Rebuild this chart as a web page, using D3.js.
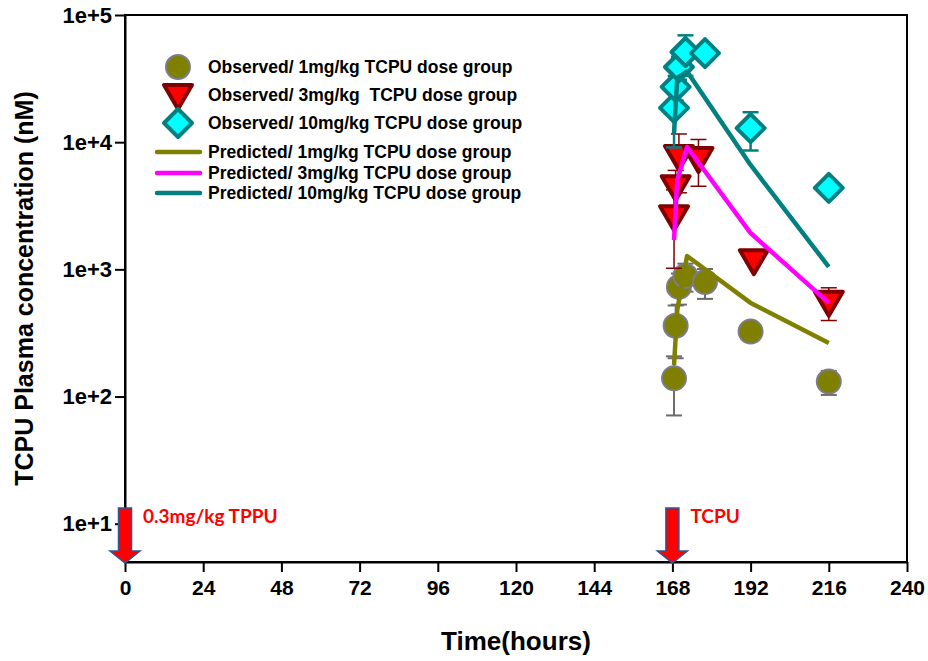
<!DOCTYPE html>
<html>
<head>
<meta charset="utf-8">
<script src="https://cdn.jsdelivr.net/npm/d3@7"></script>
<style>
  body { margin: 0; background: #fff; }
  svg text { font-family: "Liberation Sans", Arial, sans-serif; }
</style>
</head>
<body>
<div class="chart"></div>
<script>
// observed data (time in hours, concentration in nM, error = SD)
const obs1Time = [168.5, 169, 170, 172, 178, 192, 216]
const obs1 = [139, 360, 728, 888, 796, 324, 131]
const obs1Err = [68, 160, 200, 220, 210, 15, 28]

const obs3Time = [168.5, 169, 170, 176, 193, 216]
const obs3 = [2620, 4500, 7800, 7500, 1180, 556]
const obs3Err = [1600, 1500, 3800, 3000, 60, 160]

const obs10Time = [168.5, 169, 170, 172, 178, 192, 216]
const obs10 = [18600, 27200, 39000, 51200, 50200, 12900, 4370]
const obs10Err = [9500, 6000, 8000, 18000, 3000, 4300, 250]

// predicted curves
const predTime = [168.5, 169.5, 172.5, 192, 216]
const pred1 = [177, 480, 1274, 545, 264]
const pred3 = [1700, 5050, 9160, 1930, 545]
const pred10 = [11800, 32000, 36000, 6620, 1045]

const xTicks = [0, 24, 48, 72, 96, 120, 144, 168, 192, 216, 240]
const yTicks = [1e1, 1e2, 1e3, 1e4, 1e5]
const yTickLabels = ['1e+1', '1e+2', '1e+3', '1e+4', '1e+5']

const doseTimes = [0, 168]
const doseLabels = ['0.3mg/kg TPPU', 'TCPU']

const legendLabels = [
  'Observed/ 1mg/kg TCPU dose group',
  'Observed/ 3mg/kg  TCPU dose group',
  'Observed/ 10mg/kg TCPU dose group',
  'Predicted/ 1mg/kg TCPU dose group',
  'Predicted/ 3mg/kg TCPU dose group',
  'Predicted/ 10mg/kg TCPU dose group'
]

let W = 928, H = 661
let m = {top: 15, right: 21, bottom: 99, left: 125}
let w = W - m.left - m.right,
    h = H - m.top - m.bottom

const olive = '#808000', magenta = '#ff00ff', teal = '#008080'

const svg = d3.select('.chart')
              .append('svg')
              .attr('width', W)
              .attr('height', H)

const g = svg.append('g')
             .attr('transform', `translate(${m.left},${m.top})`)

const x = d3.scaleLinear().domain([0, 240]).range([0, w])
const y = d3.scaleLog().domain([5, 1e5]).range([h, 0])

// frame
g.append('rect')
 .attr('width', w)
 .attr('height', h)
 .attr('fill', 'none')
 .attr('stroke', '#000')
 .attr('stroke-width', 2)

const xAxis = g.append('g')
               .attr('transform', `translate(0,${h})`)
               .call(d3.axisBottom(x).tickValues(xTicks).tickSize(10).tickPadding(8).tickSizeOuter(0))
xAxis.select('.domain').attr('stroke-width', 2)
xAxis.selectAll('.tick line').attr('stroke-width', 2)
xAxis.selectAll('text')
     .attr('font-size', '21px')
     .attr('font-weight', 'bold')
     .attr('fill', '#000')
     .attr('font-family', '"Liberation Sans", Arial, sans-serif')

const yAxis = g.append('g')
               .call(d3.axisLeft(y).tickValues(yTicks).tickFormat((d, i) => yTickLabels[i]).tickSize(10).tickPadding(3).tickSizeOuter(0))
yAxis.select('.domain').attr('stroke-width', 2)
yAxis.selectAll('.tick line').attr('stroke-width', 2)
yAxis.selectAll('text')
     .attr('font-size', '22px')
     .attr('font-weight', 'bold')
     .attr('fill', '#000')
     .attr('font-family', '"Liberation Sans", Arial, sans-serif')

svg.append('text')
   .attr('x', m.left + w / 2)
   .attr('y', 650)
   .attr('text-anchor', 'middle')
   .attr('font-size', '26px')
   .attr('font-weight', 'bold')
   .text('Time(hours)')

svg.append('text')
   .attr('transform', `translate(33,${m.top + h / 2}) rotate(-90)`)
   .attr('text-anchor', 'middle')
   .attr('font-size', '25px')
   .attr('font-weight', 'bold')
   .text('TCPU Plasma concentration (nM)')

// dose arrows
const arrowPath = 'M-6.5,-55 L6.5,-55 L6.5,-12 L15,-12 L0,0 L-15,-12 L-6.5,-12 Z'
const arrows = g.selectAll('.dose')
                .data(doseTimes)
                .enter()
                .append('g')
                .attr('class', 'dose')
                .attr('transform', d => `translate(${x(d)},${h + 1})`)
arrows.append('path')
      .attr('d', arrowPath)
      .attr('fill', '#ff0000')
      .attr('stroke', '#2f5597')
      .attr('stroke-width', 1.5)
arrows.append('text')
      .attr('x', 18)
      .attr('y', -40)
      .attr('fill', '#ff0000')
      .attr('font-size', '19px')
      .attr('font-weight', 'bold')
      .style('font-family', 'Lato, "Open Sans", sans-serif')
      .text((d, i) => doseLabels[i])

// symbols
const triPath = 'M-14,-10 L14,-10 L0,14 Z'
const diaPath = 'M0,-14 L14,0 L0,14 L-14,0 Z'

const series = [
  {t: obs1Time, v: obs1, e: obs1Err, bar: '#6b6b6b', barW: 2},
  {t: obs3Time, v: obs3, e: obs3Err, bar: '#800000', barW: 1.5},
  {t: obs10Time, v: obs10, e: obs10Err, bar: teal, barW: 2.5}
]

const drawBars = (s) => {
  let pts = s.t.map((t, i) => ({t: t, v: s.v[i], e: s.e[i]}))
  let bars = g.append('g')
  bars.selectAll('line.v')
      .data(pts)
      .enter()
      .append('line')
      .attr('x1', d => x(d.t)).attr('x2', d => x(d.t))
      .attr('y1', d => y(d.v + d.e)).attr('y2', d => y(Math.max(d.v - d.e, 6)))
      .attr('stroke', s.bar).attr('stroke-width', s.barW)
  bars.selectAll('line.top')
      .data(pts)
      .enter()
      .append('line')
      .attr('x1', d => x(d.t) - 8).attr('x2', d => x(d.t) + 8)
      .attr('y1', d => y(d.v + d.e)).attr('y2', d => y(d.v + d.e))
      .attr('stroke', s.bar).attr('stroke-width', s.barW)
  bars.selectAll('line.bot')
      .data(pts)
      .enter()
      .append('line')
      .attr('x1', d => x(d.t) - 8).attr('x2', d => x(d.t) + 8)
      .attr('y1', d => y(Math.max(d.v - d.e, 6))).attr('y2', d => y(Math.max(d.v - d.e, 6)))
      .attr('stroke', s.bar).attr('stroke-width', s.barW)
  return pts
}

let p1 = drawBars(series[0])
g.selectAll('.c1')
 .data(p1)
 .enter()
 .append('circle')
 .attr('cx', d => x(d.t))
 .attr('cy', d => y(d.v))
 .attr('r', 12)
 .attr('fill', olive)
 .attr('stroke', '#7c7c90')
 .attr('stroke-width', 2)

let p3 = drawBars(series[1])
g.selectAll('.t3')
 .data(p3)
 .enter()
 .append('path')
 .attr('d', triPath)
 .attr('transform', d => `translate(${x(d.t)},${y(d.v)})`)
 .attr('fill', '#ff0000')
 .attr('stroke', '#800000')
 .attr('stroke-width', 4)
 .attr('stroke-linejoin', 'round')

let p10 = drawBars(series[2])
g.selectAll('.d10')
 .data(p10)
 .enter()
 .append('path')
 .attr('d', diaPath)
 .attr('transform', d => `translate(${x(d.t)},${y(d.v)})`)
 .attr('fill', '#00ffff')
 .attr('stroke', teal)
 .attr('stroke-width', 4)
 .attr('stroke-linejoin', 'round')

// predicted lines
const line = d3.line()
               .x((d, i) => x(predTime[i]))
               .y(d => y(d))

;[[pred1, olive], [pred3, magenta], [pred10, teal]].forEach(([vals, col]) => {
  g.append('path')
   .attr('d', line(vals))
   .attr('fill', 'none')
   .attr('stroke', col)
   .attr('stroke-width', 4.5)
   .attr('stroke-linejoin', 'round')
})

// legend
let legend = svg.append('g').attr('id', 'legend')
const rowY = [67, 95, 123, 152, 173, 193]

legend.append('circle')
      .attr('cx', 178).attr('cy', rowY[0]).attr('r', 12)
      .attr('fill', olive).attr('stroke', '#7c7c90').attr('stroke-width', 2)
legend.append('path')
      .attr('d', triPath)
      .attr('transform', `translate(178,${rowY[1]})`)
      .attr('fill', '#ff0000').attr('stroke', '#800000').attr('stroke-width', 4).attr('stroke-linejoin', 'round')
legend.append('path')
      .attr('d', diaPath)
      .attr('transform', `translate(178,${rowY[2]})`)
      .attr('fill', '#00ffff').attr('stroke', teal).attr('stroke-width', 4).attr('stroke-linejoin', 'round')

;[olive, magenta, teal].forEach((col, i) => {
  legend.append('line')
        .attr('x1', 157).attr('x2', 200)
        .attr('y1', rowY[i + 3]).attr('y2', rowY[i + 3])
        .attr('stroke', col).attr('stroke-width', 4.5).attr('stroke-linecap', 'round')
})

legend.selectAll('text')
      .data(legendLabels)
      .enter()
      .append('text')
      .attr('x', 208)
      .attr('y', (d, i) => rowY[i] + 6)
      .attr('font-size', '17.5px')
      .attr('font-weight', 'bold')
      .style('white-space', 'pre')
      .text(d => d)
</script>
</body>
</html>
